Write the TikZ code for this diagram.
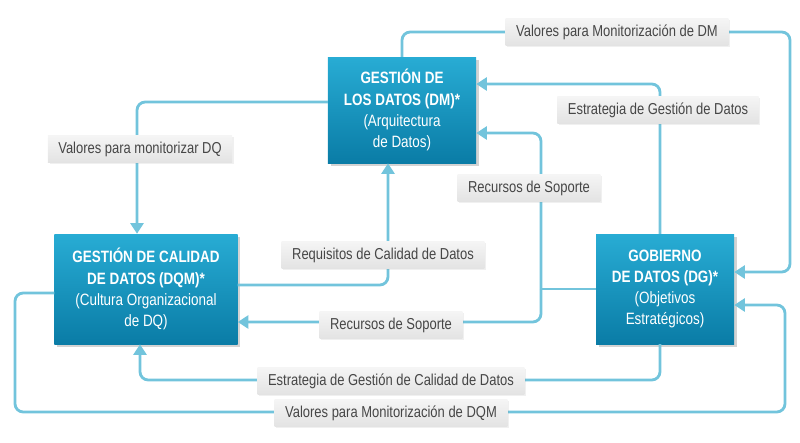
\documentclass[tikz,border=0pt]{standalone}
\usepackage{fontspec}
\setmainfont{Liberation Sans}[FakeStretch=0.82]
\usepackage{xcolor}
\usepackage{tikz}
\usetikzlibrary{arrows.meta,shadows}
\definecolor{lineblue}{RGB}{114,196,220}
\definecolor{boxtop}{RGB}{40,172,212}
\definecolor{boxbot}{RGB}{10,124,166}
\definecolor{tagtext}{RGB}{70,70,70}

\begin{document}
\begin{tikzpicture}[x=0.03cm,y=-0.03cm,
    mainbox/.style={rectangle,top color=boxtop,bottom color=boxbot,text=white,align=center,
      font=\fontsize{14}{18}\selectfont,inner sep=2pt,
      drop shadow={opacity=0.35,shadow xshift=2.5pt,shadow yshift=-2.5pt}},
    tag/.style={rectangle,top color=gray!8,bottom color=gray!22,text=tagtext,
      font=\fontsize{13.5}{15}\selectfont,minimum height=0.8cm,inner xsep=9pt,
      drop shadow={opacity=0.12,shadow xshift=1.5pt,shadow yshift=-1.5pt}},
    link/.style={draw=lineblue,line width=2.4pt,rounded corners=7pt},
    flow/.style={link,-{Triangle[length=9pt,width=11pt]}}]
  \useasboundingbox (0,0) rectangle (800,443);
  % the three areas
  \node[mainbox,minimum width=4.44cm,minimum height=3.18cm] (dm) at (402,110)
    {\textbf{GESTIÓN DE}\\\textbf{LOS DATOS (DM)*}\\(Arquitectura\\de Datos)};
  \node[mainbox,minimum width=5.49cm,minimum height=3.3cm] (dqm) at (146,289)
    {\textbf{GESTIÓN DE CALIDAD}\\\textbf{DE DATOS (DQM)*}\\(Cultura Organizacional\\de DQ)};
  \node[mainbox,minimum width=4.14cm,minimum height=3.3cm] (dg) at (665,289)
    {\textbf{GOBIERNO}\\\textbf{DE DATOS (DG)*}\\(Objetivos\\Estratégicos)};
  % connectors
  \coordinate (jn) at (541,289);
  \draw[flow] (dm.north) |- (790,32) |- (dg.east |- 0,272);
  \draw[flow] (dg.north -| 660,0) |- (dm.east |- 0,84);
  \draw[link] (dg.west) -- (jn);
  \draw[flow] (jn) |- (dm.east |- 0,133);
  \draw[flow] (jn) |- (dqm.east |- 0,322);
  \draw[flow] (dqm.east |- 0,285) -| (388,0 |- dm.south);
  \draw[flow] (dm.west |- 0,102) -| (137,0 |- dqm.north);
  \draw[flow] (dg.south -| 660,0) |- (140,380) -- (140,0 |- dqm.south);
  \draw[flow] (dqm.west |- 0,293) -| (15,412) -| (785,305) -- (dg.east |- 0,305);
  % labels
  \node[tag] (mondm) at (617,32) {Valores para Monitorización de DM};
  \node[tag] (estdm) at (658,110) {Estrategia de Gestión de Datos};
  \node[tag] (recup) at (529,188) {Recursos de Soporte};
  \node[tag] (reclo) at (391,325) {Recursos de Soporte};
  \node[tag] (reqdq) at (383,255) {Requisitos de Calidad de Datos};
  \node[tag] (mondq) at (140,149) {Valores para monitorizar DQ};
  \node[tag] (estdq) at (391,381) {Estrategia de Gestión de Calidad de Datos};
  \node[tag] (mondqm) at (391,413) {Valores para Monitorización de DQM};
\end{tikzpicture}
\end{document}
